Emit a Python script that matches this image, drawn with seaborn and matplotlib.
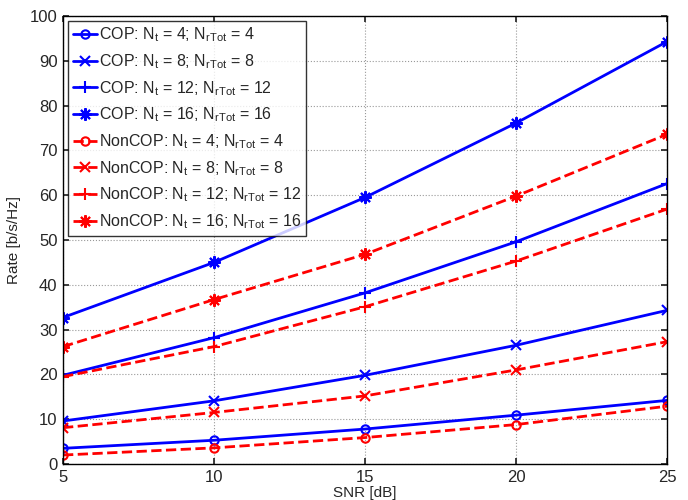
import matplotlib
matplotlib.use("Agg")
import matplotlib.pyplot as plt
import seaborn as sns
import pandas as pd

snr = [5, 10, 15, 20, 25]
cop_4 = [3.5, 5.3, 7.8, 10.9, 14.2]
cop_8 = [9.6, 14.1, 19.8, 26.5, 34.3]
cop_12 = [19.8, 28.2, 38.2, 49.6, 62.6]
cop_16 = [32.7, 45.0, 59.5, 76.1, 94.3]
noncop_4 = [2.0, 3.6, 5.9, 8.8, 12.9]
noncop_8 = [8.1, 11.5, 15.2, 21.0, 27.3]
noncop_12 = [19.5, 26.2, 35.1, 45.3, 56.9]
noncop_16 = [26.2, 36.7, 46.8, 59.8, 73.6]
n_values = [4, 8, 12, 16]

sns.set_theme(style="white")
plt.rcParams['font.family'] = ['Liberation Sans', 'DejaVu Sans']
plt.rcParams['mathtext.default'] = 'regular'

fig = plt.figure(figsize=(6.88, 5.0), dpi=100)
ax = fig.add_axes([0.0916, 0.072, 0.878, 0.896])

markers = ['o', 'x', '+', (8, 2, 0)]
msizes = [6, 7, 9, 9]
series = [("COP", cop_4), ("COP", cop_8), ("COP", cop_12), ("COP", cop_16),
          ("NonCOP", noncop_4), ("NonCOP", noncop_8), ("NonCOP", noncop_12), ("NonCOP", noncop_16)]
for i, (kind, vals) in enumerate(series):
    n = n_values[i % 4]
    color = 'blue' if kind == "COP" else 'red'
    ls = '-' if kind == "COP" else '--'
    m = markers[i % 4]
    label = f"{kind}: N$_t$ = {n}; N$_{{rTot}}$ = {n}"
    df = pd.DataFrame({"snr": snr, "rate": vals})
    sns.lineplot(data=df, x="snr", y="rate", ax=ax, color=color, linestyle=ls,
                 marker=m, markersize=msizes[i % 4],
                 markerfacecolor='none' if m == 'o' else color,
                 markeredgecolor=color, markeredgewidth=1.5,
                 linewidth=2, label=label, dashes=False if ls == '-' else (3, 2))

ax.set_xlim(5, 25)
ax.set_ylim(0, 100)
ax.set_xticks(snr)
ax.set_yticks(range(0, 101, 10))
ax.set_xlabel("SNR [dB]", fontsize=11, labelpad=1)
ax.set_ylabel("Rate [b/s/Hz]", fontsize=11, labelpad=6)
ax.tick_params(axis='both', direction='in', labelsize=12, length=4, top=True, right=True,
               bottom=True, left=True, pad=4)
ax.grid(True, linestyle=':', color='#999999', linewidth=0.8)
for s in ax.spines.values():
    s.set_color('black')
    s.set_linewidth(1.0)

leg = ax.legend(loc='upper left', fontsize=11.5, frameon=True, fancybox=False,
                edgecolor='black', borderaxespad=0.3, handlelength=1.5,
                handletextpad=0.15, labelspacing=0.5, borderpad=0.3)
leg.get_frame().set_linewidth(1.0)

fig.savefig("out.png", dpi=100)
